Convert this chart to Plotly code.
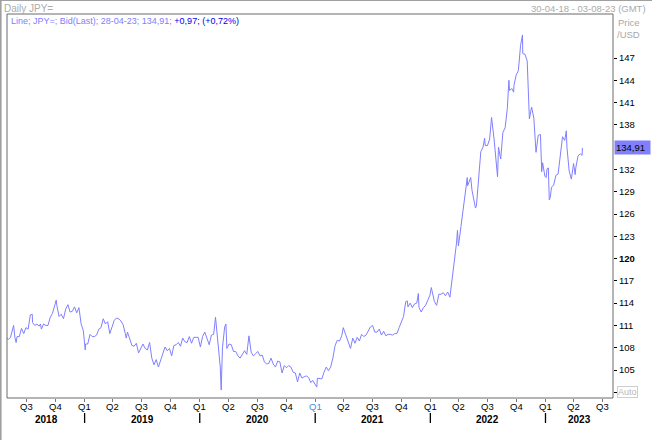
import plotly.graph_objects as go

# ---------------- data (USD/JPY) ----------------
jpy_2018 = [("2018-04-30",109.3),("2018-05-04",109.1),("2018-05-11",109.4),("2018-05-18",110.8),("2018-05-21",111.0),
            ("2018-05-25",109.4),("2018-05-29",108.7),("2018-06-01",109.5),("2018-06-08",109.5),("2018-06-15",110.6),
            ("2018-06-22",109.9),("2018-06-29",110.7),("2018-07-06",110.5),("2018-07-13",112.4),("2018-07-19",112.5),
            ("2018-07-20",111.4),("2018-07-27",111.0),("2018-08-03",111.2),("2018-08-10",110.9),("2018-08-14",111.2),
            ("2018-08-17",110.5),("2018-08-24",111.2),("2018-08-31",111.0),("2018-09-07",111.0),("2018-09-14",112.1),
            ("2018-09-21",112.6),("2018-09-28",113.7),("2018-10-03",114.4),("2018-10-05",113.7),("2018-10-12",112.2),
            ("2018-10-19",112.5),("2018-10-26",111.9),("2018-11-02",113.2),("2018-11-09",113.8),("2018-11-16",112.8),
            ("2018-11-23",112.9),("2018-11-30",113.5),("2018-12-07",112.7),("2018-12-14",113.4),("2018-12-21",111.2),
            ("2018-12-28",110.3)]
jpy_2019 = [("2019-01-03",107.7),("2019-01-04",108.5),("2019-01-11",108.5),("2019-01-18",109.8),("2019-01-25",109.5),
            ("2019-02-01",109.5),("2019-02-08",109.7),("2019-02-15",110.5),("2019-02-22",110.7),("2019-03-01",111.9),
            ("2019-03-08",111.2),("2019-03-15",111.5),("2019-03-22",109.9),("2019-03-29",110.8),("2019-04-05",111.7),
            ("2019-04-12",112.0),("2019-04-19",111.9),("2019-04-26",111.6),("2019-05-03",111.1),("2019-05-10",109.9),
            ("2019-05-13",109.3),("2019-05-17",110.1),("2019-05-24",109.3),("2019-05-31",108.3),("2019-06-07",108.2),
            ("2019-06-14",108.6),("2019-06-21",107.3),("2019-06-28",107.9),("2019-07-05",108.5),("2019-07-12",107.9),
            ("2019-07-19",107.7),("2019-07-26",108.7),("2019-08-02",106.6),("2019-08-09",105.7),("2019-08-16",106.4),
            ("2019-08-23",105.4),("2019-08-30",106.3),("2019-09-06",106.9),("2019-09-13",108.1),("2019-09-20",107.6),
            ("2019-09-27",107.9),("2019-10-04",106.9),("2019-10-11",108.3),("2019-10-18",108.4),("2019-10-25",108.7),
            ("2019-11-01",108.2),("2019-11-08",109.3),("2019-11-15",108.8),("2019-11-22",108.7),("2019-11-29",109.5),
            ("2019-12-06",108.6),("2019-12-13",109.4),("2019-12-20",109.4),("2019-12-27",109.4)]
jpy_2020 = [("2020-01-03",108.1),("2020-01-10",109.5),("2020-01-17",110.1),("2020-01-24",109.3),("2020-01-31",108.4),
            ("2020-02-07",109.7),("2020-02-14",109.8),("2020-02-20",112.1),("2020-02-21",111.6),("2020-02-28",107.9),
            ("2020-03-06",105.4),("2020-03-09",102.3),("2020-03-13",108.0),("2020-03-20",110.8),("2020-03-24",111.2),
            ("2020-03-27",107.9),("2020-04-03",108.5),("2020-04-10",108.4),("2020-04-17",107.5),("2020-04-24",107.5),
            ("2020-05-01",106.9),("2020-05-08",106.6),("2020-05-15",107.1),("2020-05-22",107.6),("2020-05-29",107.1),
            ("2020-06-05",109.6),("2020-06-12",107.4),("2020-06-19",106.9),("2020-06-26",107.2),("2020-07-03",107.5),
            ("2020-07-10",106.9),("2020-07-17",107.0),("2020-07-24",106.1),("2020-07-31",105.8),("2020-08-07",105.9),
            ("2020-08-14",106.6),("2020-08-21",105.8),("2020-08-28",105.4),("2020-09-04",106.2),("2020-09-11",106.1),
            ("2020-09-18",104.6),("2020-09-25",105.6),("2020-10-02",105.3),("2020-10-09",105.6),("2020-10-16",105.4),
            ("2020-10-23",104.7),("2020-10-30",104.6),("2020-11-06",103.4),("2020-11-13",104.6),("2020-11-20",103.9),
            ("2020-11-27",104.1),("2020-12-04",104.2),("2020-12-11",104.0),("2020-12-18",103.3),("2020-12-24",103.6),
            ("2020-12-31",103.2)]
jpy_2021 = [("2021-01-06",102.7),("2021-01-08",103.9),("2021-01-15",103.9),("2021-01-22",103.8),("2021-01-29",104.7),
            ("2021-02-05",105.4),("2021-02-12",104.9),("2021-02-19",105.4),("2021-02-26",106.6),("2021-03-05",108.3),
            ("2021-03-12",109.0),("2021-03-19",108.9),("2021-03-26",109.6),("2021-03-31",110.7),("2021-04-09",109.6),
            ("2021-04-16",108.8),("2021-04-23",107.9),("2021-04-30",109.3),("2021-05-07",108.6),("2021-05-14",109.4),
            ("2021-05-21",108.9),("2021-05-28",109.8),("2021-06-04",109.5),("2021-06-11",109.7),("2021-06-18",110.2),
            ("2021-06-25",110.8),("2021-07-02",111.0),("2021-07-09",110.1),("2021-07-16",110.1),("2021-07-23",110.5),
            ("2021-07-30",109.7),("2021-08-06",110.2),("2021-08-13",109.6),("2021-08-20",109.8),("2021-08-27",109.8),
            ("2021-09-03",109.7),("2021-09-10",109.9),("2021-09-17",109.9),("2021-09-24",110.7),("2021-09-30",111.3),
            ("2021-10-08",112.2),("2021-10-15",114.2),("2021-10-20",114.3),("2021-10-22",113.5),("2021-10-29",114.0),
            ("2021-11-05",113.4),("2021-11-12",113.9),("2021-11-19",114.0),("2021-11-24",115.3),("2021-11-26",113.4),
            ("2021-12-03",112.8),("2021-12-10",113.4),("2021-12-17",113.7),("2021-12-24",114.4),("2021-12-31",115.1)]
jpy_2022 = [("2022-01-04",116.1),("2022-01-07",115.6),("2022-01-14",114.2),("2022-01-21",113.7),("2022-01-28",115.2),
            ("2022-02-04",115.2),("2022-02-11",115.4),("2022-02-18",115.0),("2022-02-25",115.5),("2022-03-04",114.8),
            ("2022-03-11",117.3),("2022-03-18",119.2),("2022-03-25",122.1),("2022-03-28",123.8),("2022-03-31",121.7),
            ("2022-04-08",124.3),("2022-04-15",126.4),("2022-04-22",128.5),("2022-04-28",130.9),("2022-04-29",129.8),
            ("2022-05-06",130.6),("2022-05-09",130.9),("2022-05-13",129.2),("2022-05-20",127.9),("2022-05-24",126.8),
            ("2022-05-27",127.1),("2022-06-03",130.9),("2022-06-10",134.4),("2022-06-17",135.0),("2022-06-22",136.2),
            ("2022-06-24",135.2),("2022-07-01",135.2),("2022-07-08",136.1),("2022-07-14",139.0),("2022-07-22",136.1),
            ("2022-07-29",133.3),("2022-08-02",131.0),("2022-08-05",135.0),("2022-08-12",133.4),("2022-08-19",137.0),
            ("2022-08-26",137.6),("2022-09-02",140.2),("2022-09-07",144.0),("2022-09-09",142.6),("2022-09-16",142.9),
            ("2022-09-22",142.4),("2022-09-23",143.3),("2022-09-30",144.7),("2022-10-07",145.3),("2022-10-14",148.7),
            ("2022-10-20",150.1),("2022-10-21",147.6),("2022-10-28",147.5),("2022-11-04",146.6),("2022-11-10",141.0),
            ("2022-11-11",138.8),("2022-11-18",140.4),("2022-11-25",138.9),("2022-12-02",134.3),("2022-12-09",136.6),
            ("2022-12-16",136.7),("2022-12-20",131.7),("2022-12-23",132.9),("2022-12-30",131.1)]
jpy_2023 = [("2023-01-03",130.9),("2023-01-06",132.1),("2023-01-10",132.2),("2023-01-13",127.9),("2023-01-16",128.2),
            ("2023-01-20",129.6),("2023-01-27",129.9),("2023-02-03",131.2),("2023-02-10",131.4),("2023-02-17",134.2),
            ("2023-02-24",136.4),("2023-03-03",135.9),("2023-03-08",137.2),("2023-03-10",135.0),("2023-03-17",131.8),
            ("2023-03-24",130.7),("2023-03-31",132.8),("2023-04-05",131.3),("2023-04-07",132.2),("2023-04-14",133.8),
            ("2023-04-21",134.1),("2023-04-27",133.9),("2023-04-28",134.91)]

quarter_dates = ["2018-07-01","2018-10-01","2019-01-01","2019-04-01","2019-07-01","2019-10-01",
                 "2020-01-01","2020-04-01","2020-07-01","2020-10-01","2021-01-01","2021-04-01",
                 "2021-07-01","2021-10-01","2022-01-01","2022-04-01","2022-07-01","2022-10-01",
                 "2023-01-01","2023-04-01","2023-07-01"]
quarter_labels = ["Q3","Q4","Q1","Q2","Q3","Q4","Q1","Q2","Q3","Q4",
                  "<span style='color:#3b8fe0'>Q1</span>","Q2","Q3","Q4","Q1","Q2","Q3","Q4","Q1","Q2","Q3"]
year_labels = ["2018","2019","2020","2021","2022","2023"]
year_label_dates = ["2018-09-01","2019-07-02","2020-07-02","2021-07-02","2022-07-02","2023-04-18"]
year_starts = ["2019-01-01","2020-01-01","2021-01-01","2022-01-01","2023-01-01"]
y_ticks = [102,105,108,111,114,117,120,123,126,129,132,138,141,144,147]
y_ticktext = ["","105","108","111","114","117","<b>120</b>","123","126","129","132","138","141","144","147"]
last_value = 134.91
x_range = ["2018-04-30","2023-08-03"]

# ---------------- figure ----------------
pts = jpy_2018 + jpy_2019 + jpy_2020 + jpy_2021 + jpy_2022 + jpy_2023
dates = [d for d, _ in pts]
vals = [v for _, v in pts]

W, H = 652, 440
L, R, T, B = 7, 39, 14, 42
PW, PH = W - L - R, H - T - B

def px(xp):  # pixel x -> paper
    return (xp - L) / PW
def py(yp):  # pixel y -> paper
    return (H - B - yp) / PH

FONT = "Liberation Sans, Arial, sans-serif"
LINE = "#8080ff"

fig = go.Figure(go.Scatter(x=dates, y=vals, mode="lines",
                           line=dict(color=LINE, width=1), hoverinfo="skip"))

fig.update_layout(
    width=W, height=H, margin=dict(l=L, r=R, t=T, b=B, pad=0),
    paper_bgcolor="white", plot_bgcolor="white", showlegend=False,
    font=dict(family=FONT, size=9.5, color="black"),
    xaxis=dict(type="date", range=x_range, tickmode="array", tickvals=quarter_dates,
               ticktext=[""] * len(quarter_dates), ticks="outside", ticklen=3, tickcolor="#777",
               showgrid=False, zeroline=False, showline=False),
    yaxis=dict(side="right", range=[101.231, 152.923], tickmode="array", tickvals=y_ticks,
               ticktext=y_ticktext, ticks="outside", ticklen=3, tickcolor="black",
               showgrid=False, zeroline=False, showline=False,
               tickfont=dict(size=9.5, family=FONT, color="black")),
)

shapes = [
    dict(type="rect", xref="paper", yref="paper", x0=0, x1=1, y0=0, y1=1,
         line=dict(color="#6a6a6a", width=1), layer="above"),
    dict(type="line", xref="paper", yref="paper", x0=px(0), x1=px(W), y0=py(0.5), y1=py(0.5),
         line=dict(color="#a0a0a0", width=1)),
    dict(type="line", xref="paper", yref="paper", x0=px(0.8), x1=px(0.8), y0=py(0), y1=py(H),
         line=dict(color="#a0a0a0", width=1.6)),
]
for d in year_starts:
    shapes.append(dict(type="line", xref="x", yref="paper", x0=d, x1=d,
                       y0=py(413), y1=py(423), line=dict(color="black", width=1.3)))
fig.update_layout(shapes=shapes)

ann = [
    dict(text="Daily JPY=", xref="paper", yref="paper", x=px(2), y=py(8), xanchor="left",
         yanchor="middle", showarrow=False, font=dict(size=10, color="#ababab")),
    dict(text="30-04-18 - 03-08-23 (GMT)", xref="paper", yref="paper", x=px(648), y=py(8),
         xanchor="right", yanchor="middle", showarrow=False, font=dict(size=9.5, color="#ababab")),
    dict(text="<span style='color:#8080ff'>Line; JPY=; Bid(Last); 28-04-23; 134,91; </span>"
              "<span style='color:#0000ee'>+0,97; (+0,72%)</span>",
         xref="paper", yref="paper", x=px(9), y=py(21), xanchor="left", yanchor="middle",
         showarrow=False, font=dict(size=9)),
    dict(text="Price", xref="paper", yref="paper", x=px(616), y=py(22), xanchor="left",
         yanchor="middle", showarrow=False, font=dict(size=9.5, color="#a8a8a8")),
    dict(text="/USD", xref="paper", yref="paper", x=px(615), y=py(34), xanchor="left",
         yanchor="middle", showarrow=False, font=dict(size=9.5, color="#a8a8a8")),
    dict(text="134,91", xref="paper", yref="y", x=px(614), y=last_value, xanchor="left",
         yanchor="middle", showarrow=False, bgcolor=LINE, borderpad=1, width=33, align="left",
         font=dict(size=9.5, color="black")),
    dict(text="Auto", xref="paper", yref="y", x=px(617), y=102, xanchor="left",
         yanchor="middle", showarrow=False, bordercolor="#cfcfcf", borderwidth=1, borderpad=0,
         font=dict(size=9, color="#b8b8b8")),
]
for t, d in zip(quarter_labels, quarter_dates):
    ann.append(dict(text=t, xref="x", yref="paper", x=d, y=py(406.5),
                    xanchor="center", yanchor="middle", showarrow=False,
                    font=dict(size=9.5, color="black")))
for t, d in zip(year_labels, year_label_dates):
    ann.append(dict(text="<b>" + t + "</b>", xref="x", yref="paper", x=d, y=py(419),
                    xanchor="center", yanchor="middle", showarrow=False,
                    font=dict(size=10, color="black")))
fig.update_layout(annotations=ann)

fig.write_html("out.html", config={"displayModeBar": False, "staticPlot": True},
               post_script="document.body.style.margin='0';document.body.style.padding='0';"
                           "document.documentElement.style.overflow='hidden';")
